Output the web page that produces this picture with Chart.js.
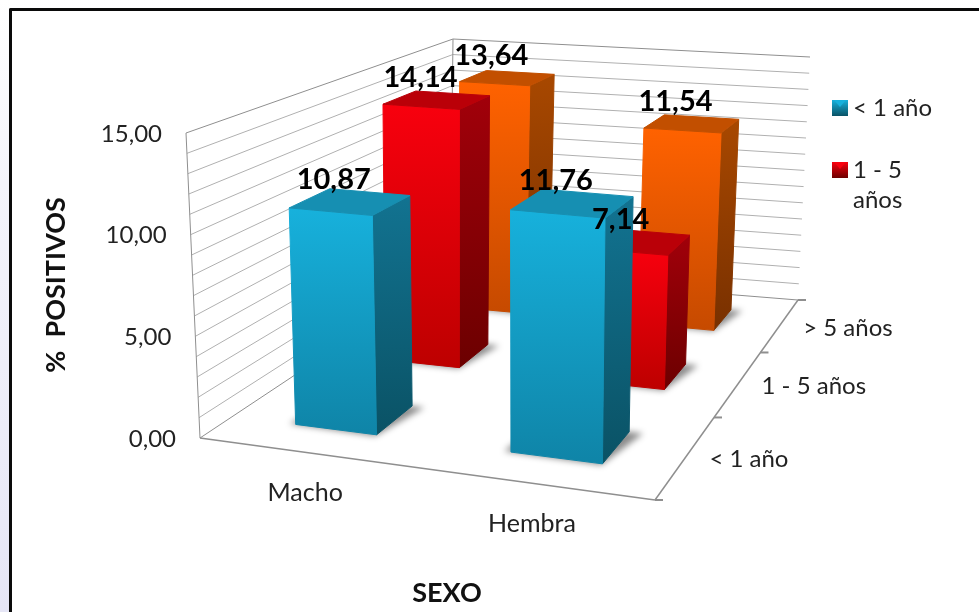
<!DOCTYPE html>
<html>
<head>
<meta charset="utf-8">
<style>
html, body { margin: 0; height: 100%; background: linear-gradient(#ffffff 0%, #f4f4fb 30%, #e6e6f6 100%); overflow: hidden; }
#frame { position: absolute; left: 9px; top: 8px; width: 970px; height: 604px; background: #fff;
  border-left: 3px solid #0a0a0a; border-top: 3px solid #0a0a0a; border-top-left-radius: 2px; }
canvas { position: absolute; left: -12px; top: -11px; filter: blur(0.45px); }
</style>
<script src="https://cdn.jsdelivr.net/npm/chart.js@4"></script>
</head>
<body>
<div id="frame"><canvas id="myChart" width="979" height="612"></canvas></div>
<script>
var sexo = ['Macho', 'Hembra'];
var edades = ['< 1 año', '1 - 5 años', '> 5 años'];
var menor1 = [10.87, 11.76];
var entre1y5 = [14.14, 7.14];
var mayor5 = [13.64, 11.54];

// front, bottom of front, side, bottom of side, top
var colores = [
    ['#17b1dc', '#0f84a7', '#127391', '#0a5265', '#168fb2'],
    ['#f8000e', '#bd0000', '#a1000a', '#6c0000', '#ba0008'],
    ['#ff6200', '#c64a00', '#a84800', '#783000', '#c24f00']
];

// square to quad mapping, for the floor and for the top of the box
function quad(p) {
    var dx1 = p[1][0] - p[2][0], dx2 = p[3][0] - p[2][0], sx = p[0][0] - p[1][0] + p[2][0] - p[3][0];
    var dy1 = p[1][1] - p[2][1], dy2 = p[3][1] - p[2][1], sy = p[0][1] - p[1][1] + p[2][1] - p[3][1];
    var den = dx1 * dy2 - dx2 * dy1;
    var g = (sx * dy2 - dx2 * sy) / den, h = (dx1 * sy - sx * dy1) / den;
    var a = p[1][0] - p[0][0] + g * p[1][0], b = p[3][0] - p[0][0] + h * p[3][0];
    var d = p[1][1] - p[0][1] + g * p[1][1], e = p[3][1] - p[0][1] + h * p[3][1];
    return function (u, w) {
        var k = g * u + h * w + 1;
        return [(a * u + b * w + p[0][0]) / k, (d * u + e * w + p[0][1]) / k];
    };
}
var suelo = quad([[200, 438], [655, 500], [798, 300], [450, 272]]);
var techo = quad([[186, 133], [660, 172], [810, 57], [453, 39]]);

// u along sexo, w along edad, v height 0..1
function pt(u, w, v) {
    var a = suelo(u, w), b = techo(u, w);
    return [a[0] + (b[0] - a[0]) * v, a[1] + (b[1] - a[1]) * v];
}
function poly(ctx, pts) {
    ctx.beginPath();
    pts.forEach(function (q, i) { i ? ctx.lineTo(q[0], q[1]) : ctx.moveTo(q[0], q[1]); });
    ctx.closePath();
}
function line(ctx, a, b) {
    ctx.beginPath();
    ctx.moveTo(a[0], a[1]);
    ctx.lineTo(b[0], b[1]);
    ctx.stroke();
}
function fillFace(ctx, pts, c1, c2) {
    var ys = pts.map(function (q) { return q[1]; });
    var grad = ctx.createLinearGradient(0, Math.min.apply(null, ys), 0, Math.max.apply(null, ys));
    grad.addColorStop(0, c1);
    grad.addColorStop(1, c2);
    poly(ctx, pts);
    ctx.fillStyle = grad;
    ctx.strokeStyle = grad;
    ctx.lineWidth = 1;
    ctx.lineJoin = 'round';
    ctx.fill();
    ctx.stroke();
}
function txt(ctx, s, x, y, font, align) {
    ctx.font = font;
    ctx.fillStyle = '#222';
    ctx.textAlign = align || 'center';
    ctx.textBaseline = 'middle';
    ctx.fillText(s, x, y);
}
function coma(v) { return v.toFixed(2).replace('.', ','); }

var bars3d = {
    id: 'bars3d',
    beforeDatasetsDraw: function (chart) {
        var ctx = chart.ctx, y = chart.scales.y;
        ctx.save();
        ctx.lineWidth = 1;
        y.ticks.forEach(function (t) {
            var v = t.value / y.max;
            ctx.strokeStyle = t.value === 15 || t.value === 0 ? '#8f8f8f' : '#b0b0b0';
            line(ctx, pt(0, 0, v), pt(0, 1, v));
            line(ctx, pt(0, 1, v), pt(1, 1, v));
            if (t.label) {
                var p = pt(0, 0, v);
                txt(ctx, t.label, p[0] - 24, p[1] + 1, '24px Lato', 'right');
            }
        });
        ctx.strokeStyle = '#8f8f8f';
        line(ctx, pt(0, 0, 0), pt(0, 0, 1));
        line(ctx, pt(0, 1, 0), pt(0, 1, 1));
        ctx.lineWidth = 1.5;
        line(ctx, pt(0, 0, 0), pt(1, 0, 0));
        line(ctx, pt(1, 0, 0), pt(1, 1, 0));
        ctx.lineWidth = 2;
        edades.concat(['']).forEach(function (e, i) {
            var p = pt(1, i / 3, 0);
            line(ctx, p, [p[0] + 8, p[1]]);
        });
        ctx.restore();
    },
    beforeDatasetDraw: function (chart, args) {
        var ctx = chart.ctx, area = chart.chartArea, i = args.index;
        var c = colores[i];
        var w0 = (i + 0.5) / 3 - 0.067, w1 = (i + 0.5) / 3 + 0.067;
        ctx.save();
        chart.getDatasetMeta(i).data.forEach(function (bar) {
            var u0 = (bar.x - bar.width / 2 - area.left) / area.width + 0.006;
            var u1 = (bar.x + bar.width / 2 - area.left) / area.width + 0.006;
            var v = (bar.base - bar.y) / area.height;
            // soft shadow on the floor
            ctx.save();
            ctx.filter = 'blur(3px)';
            ctx.fillStyle = 'rgba(0,0,0,0.45)';
            poly(ctx, [pt(u0 - 0.015, w0, 0), pt(u1, w0 - 0.005, 0), pt(u1 + 0.03, w1, 0), pt(u0, w1, 0)]);
            ctx.fill();
            ctx.restore();
            fillFace(ctx, [pt(u1, w0, v), pt(u1, w1, v), pt(u1, w1, 0), pt(u1, w0, 0)], c[2], c[3]);
            fillFace(ctx, [pt(u0, w0, v), pt(u1, w0, v), pt(u1, w0, 0), pt(u0, w0, 0)], c[0], c[1]);
            fillFace(ctx, [pt(u0, w0, v), pt(u1, w0, v), pt(u1, w1, v), pt(u0, w1, v)], c[4], c[4]);
        });
        ctx.restore();
        return false;
    },
    afterDatasetsDraw: function (chart) {
        var ctx = chart.ctx, area = chart.chartArea, x = chart.scales.x;
        ctx.save();
        chart.data.datasets.forEach(function (ds, i) {
            chart.getDatasetMeta(i).data.forEach(function (bar, j) {
                var p = pt((bar.x - area.left) / area.width, (i + 0.5) / 3, (bar.base - bar.y) / area.height);
                ctx.font = 'bold 29px Lato';
                ctx.fillStyle = '#000';
                ctx.textAlign = 'center';
                ctx.textBaseline = 'middle';
                ctx.fillText(coma(ds.data[j]), p[0] - 14, p[1] - 22);
            });
        });
        // category and depth labels along the floor
        x.getLabels().forEach(function (l, j) {
            var p = pt((x.getPixelForValue(j) - area.left) / area.width, 0, 0);
            txt(ctx, l, p[0] + 2, p[1] + 41, '25px Lato');
        });
        edades.forEach(function (e, i) {
            var p = pt(1, (i + 0.5) / 3, 0);
            txt(ctx, e, p[0] + 23, p[1] + 3, '24px Lato', 'left');
        });
        // axis titles
        ctx.fillStyle = '#111';
        ctx.textAlign = 'center';
        ctx.textBaseline = 'middle';
        ctx.font = 'bold 27px Lato';
        ctx.fillText('SEXO', 447, 593);
        ctx.save();
        ctx.translate(56, 285);
        ctx.rotate(-Math.PI / 2);
        ctx.fillText('%  POSITIVOS', 0, 0);
        ctx.restore();
        // legend, only the first two series fit
        [[100, ['< 1 año']], [162, ['1 - 5', 'años']]].forEach(function (row, i) {
            var c = colores[i], top = row[0];
            var g = ctx.createLinearGradient(0, top, 0, top + 16);
            g.addColorStop(0, c[0]);
            g.addColorStop(1, c[3]);
            ctx.fillStyle = g;
            ctx.fillRect(832, top, 16, 16);
            ctx.fillStyle = c[0];
            poly(ctx, [[834, top], [846, top], [840, top + 7]]);
            ctx.fill();
            row[1].forEach(function (s, k) {
                txt(ctx, s, 853, top + 8 + k * 30, '24px Lato', 'left');
            });
        });
        ctx.restore();
    }
};

var ctx = document.getElementById('myChart').getContext('2d');
var myChart = new Chart(ctx, {
    type: 'bar',
    data: {
        labels: sexo,
        datasets: [
            { label: edades[0], data: menor1, backgroundColor: colores[0][0] },
            { label: edades[1], data: entre1y5, backgroundColor: colores[1][0] },
            { label: edades[2], data: mayor5, backgroundColor: colores[2][0] }
        ]
    },
    options: {
        responsive: false,
        animation: false,
        grouped: false,
        categoryPercentage: 0.39,
        barPercentage: 1,
        plugins: { legend: { display: false }, tooltip: { enabled: false } },
        scales: {
            x: { display: false },
            y: {
                display: false,
                min: 0,
                max: 15,
                ticks: {
                    stepSize: 1,
                    autoSkip: false,
                    callback: function (v) { return v % 5 === 0 ? coma(v) : ''; }
                }
            }
        }
    },
    plugins: [bars3d]
});
</script>
</body>
</html>
